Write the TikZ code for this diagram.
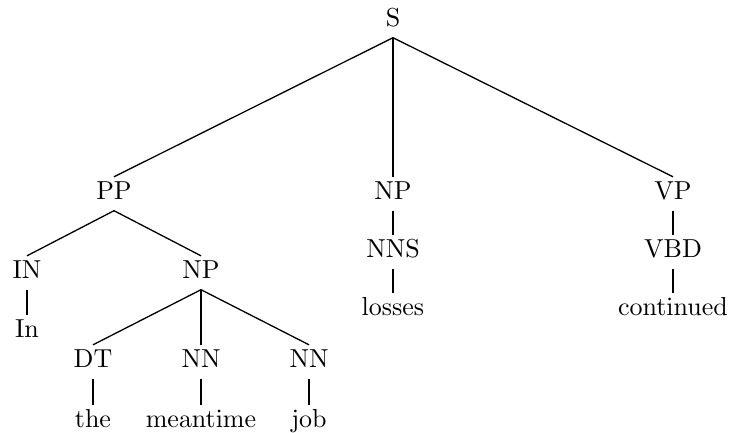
\documentclass[tikz,border=0pt]{standalone}
% Computer Modern Roman, enlarged for the tree labels
\font\treefont=cmr10 at 26pt
\begin{document}
\begin{tikzpicture}[x=1pt,y=-1pt,
  tnode/.style={anchor=base,font=\treefont,inner xsep=2pt,inner ysep=6pt,
                text height=16pt,text depth=5.5pt},
  branch/.style={line width=1.3pt,black}]
\useasboundingbox (0,0) rectangle (731,432);

% phrase and tag labels (positions are baselines)
\node[tnode] (S)    at (393,26)  {S};
\node[tnode] (PP)   at (114,199) {PP};
\node[tnode] (NPa)  at (393,199) {NP};
\node[tnode] (VP)   at (673,199) {VP};
\node[tnode] (IN)   at (27,278)  {IN};
\node[tnode] (NPb)  at (201,278) {NP};
\node[tnode] (NNS)  at (393,257) {NNS};
\node[tnode] (VBD)  at (673,257) {VBD};
\node[tnode] (DT)   at (93,367)  {DT};
\node[tnode] (NNa)  at (201,367) {NN};
\node[tnode] (NNb)  at (309,367) {NN};

% words
\node[tnode] (wIn)   at (27,337)  {In};
\node[tnode] (wLoss) at (393,315) {losses};
\node[tnode] (wCont) at (673,315) {continued};
\node[tnode] (wThe)  at (93,427)  {the};
\node[tnode] (wMean) at (201,427) {meantime};
\node[tnode] (wJob)  at (309,427) {job};

% branches
\foreach \p/\c in {S/PP,S/NPa,S/VP,PP/IN,PP/NPb,NPa/NNS,VP/VBD,
                   NPb/DT,NPb/NNa,NPb/NNb,IN/wIn,NNS/wLoss,VBD/wCont,
                   DT/wThe,NNa/wMean,NNb/wJob}
  \draw[branch] (\p.south) -- (\c.north);
\end{tikzpicture}
\end{document}
